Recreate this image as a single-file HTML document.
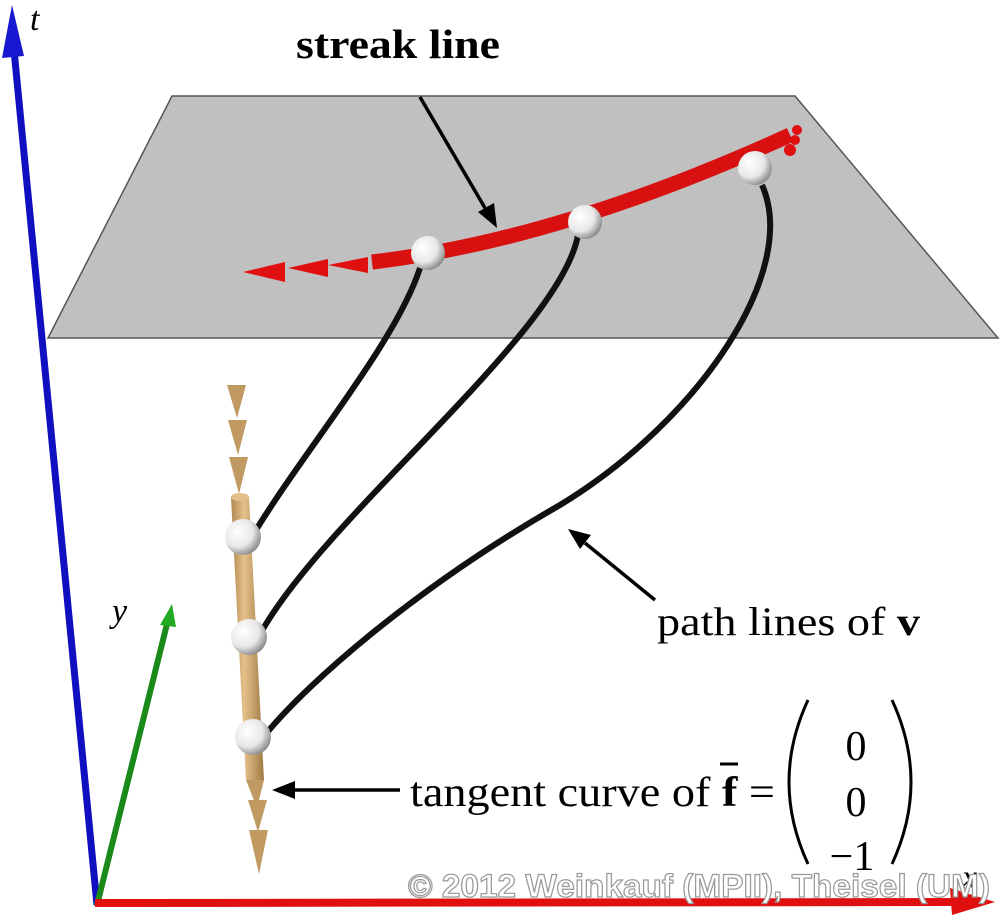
<!DOCTYPE html>
<html><head><meta charset="utf-8"><style>html,body{margin:0;padding:0;background:#fff}svg{display:block}</style></head><body>
<svg width="1000" height="917" viewBox="0 0 1000 917" xmlns="http://www.w3.org/2000/svg">
<defs>
<radialGradient id="sph" cx="0.35" cy="0.35" r="0.7"><stop offset="0" stop-color="#fff"/><stop offset="0.6" stop-color="#e8e8e8"/><stop offset="1" stop-color="#888"/></radialGradient>
<linearGradient id="tan" x1="0" x2="1"><stop offset="0" stop-color="#b08850"/><stop offset="0.4" stop-color="#e6c08a"/><stop offset="1" stop-color="#a07a45"/></linearGradient>
</defs>
<polygon points="172,96 795,96 998,338 48,338" fill="#c0c0c0" stroke="#555" stroke-width="1.5"/>
<line x1="97" y1="905" x2="14" y2="50" stroke="#1010c0" stroke-width="7"/>
<polygon points="12,5 2,58 24,56" fill="#1818d0"/>
<line x1="97" y1="905" x2="168" y2="620" stroke="#1a8a1a" stroke-width="6"/>
<polygon points="172,604 160,625 176,627" fill="#22aa22"/>
<line x1="95" y1="903" x2="955" y2="902" stroke="#e01010" stroke-width="8"/>
<polygon points="995,902 950,888 952,915" fill="#e01010"/>
<text x="30" y="30" font-family="Liberation Serif,serif" font-style="italic" font-size="34">t</text>
<text x="112" y="622" font-family="Liberation Serif,serif" font-style="italic" font-size="34">y</text>
<text x="962" y="888" font-family="Liberation Serif,serif" font-style="italic" font-size="34">x</text>
<g fill="none" stroke="#111" stroke-width="6">
<path d="M420,268 C395,345 300,455 250,540"/>
<path d="M578,235 C560,335 320,520 258,638"/>
<path d="M762,185 C800,270 700,420 560,505 C420,585 310,680 265,735"/>
</g>
<path d="M372,262 Q560,240 790,135" fill="none" stroke="#d81010" stroke-width="15"/>
<g fill="#e01010">
<polygon points="243,272 285,262 285,282"/>
<polygon points="288,268 328,259 328,277"/>
<polygon points="328,265 368,257 368,273"/>
<circle cx="790" cy="150" r="6"/><circle cx="795" cy="140" r="5"/><circle cx="797" cy="130" r="5"/>
</g>
<circle cx="428" cy="253" r="17" fill="url(#sph)"/>
<circle cx="585" cy="222" r="17" fill="url(#sph)"/>
<circle cx="755" cy="168" r="17" fill="url(#sph)"/>
<polygon points="231,497 249,497 264,780 246,780" fill="url(#tan)"/>
<ellipse cx="240" cy="497" rx="9" ry="4" fill="#e2c08a"/>
<g fill="#c09a62">
<polygon points="227,385 246,385 237,418"/>
<polygon points="228,420 247,420 238,455"/>
<polygon points="229,457 248,457 239,494"/>
<polygon points="246,780 264,780 257,808"/>
<polygon points="248,800 267,800 258,832"/>
<polygon points="249,830 268,830 259,874"/>
</g>
<circle cx="243" cy="537" r="18" fill="url(#sph)"/>
<circle cx="249" cy="637" r="18" fill="url(#sph)"/>
<circle cx="253" cy="737" r="18" fill="url(#sph)"/>
<g stroke="#000" stroke-width="3.5" fill="#000">
<line x1="420" y1="97" x2="485" y2="208"/><polygon points="497,228 478,212 494,203" stroke="none"/>
<line x1="655" y1="600" x2="585" y2="543"/><polygon points="568,529 591,535 580,549" stroke="none"/>
<line x1="400" y1="790" x2="292" y2="790"/><polygon points="272,790 295,781 295,799" stroke="none"/>
</g>
<g font-family="Liberation Serif,serif" fill="#000">
<text x="296" y="58" font-size="41" font-weight="bold" textLength="204" lengthAdjust="spacingAndGlyphs">streak line</text>
<text x="657" y="635" font-size="40" textLength="263" lengthAdjust="spacingAndGlyphs">path lines of <tspan font-weight="bold">v</tspan></text>
<text x="410" y="806" font-size="42" textLength="365" lengthAdjust="spacingAndGlyphs">tangent curve of <tspan font-weight="bold">f</tspan> =</text>
<line x1="720" y1="764" x2="738" y2="764" stroke="#000" stroke-width="3"/>
<path d="M808,700 Q770,782 808,864" fill="none" stroke="#000" stroke-width="3"/>
<path d="M892,700 Q930,782 892,864" fill="none" stroke="#000" stroke-width="3"/>
<text x="856" y="760" font-size="42" text-anchor="middle">0</text>
<text x="856" y="816" font-size="42" text-anchor="middle">0</text>
<text x="852" y="870" font-size="42" text-anchor="middle">−1</text>
</g>
<text x="408" y="897" font-family="Liberation Sans,sans-serif" font-weight="bold" font-size="32" fill="#fff" stroke="#999" stroke-width="1.2" textLength="582" lengthAdjust="spacingAndGlyphs">© 2012 Weinkauf (MPII), Theisel (UM)</text>
</svg>
</body></html>
